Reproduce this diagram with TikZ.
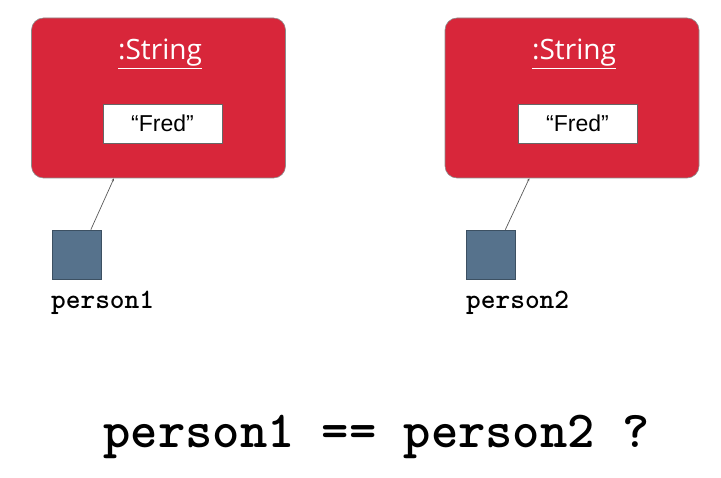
\documentclass[tikz,border=0pt]{standalone}
\usepackage{fontspec}
\newfontfamily\classfont{Open Sans}
\newfontfamily\valuefont{Liberation Sans}
\usetikzlibrary{arrows.meta}

\definecolor{objred}{HTML}{D8263A}
\definecolor{refblue}{HTML}{56728C}

\begin{document}
\begin{tikzpicture}[x=1pt, y=-1pt,
    object/.style={draw=black!45, line width=0.6pt, fill=objred, rounded corners=12pt,
      inner sep=0pt, minimum width=254pt, minimum height=160pt},
    classname/.style={text=white, font=\classfont\fontsize{28}{28}\selectfont, anchor=base, inner sep=0pt},
    value/.style={draw=black!60, line width=0.5pt, fill=white, inner sep=0pt,
      minimum width=119pt, minimum height=39pt, font=\valuefont\fontsize{23}{23}\selectfont},
    ref/.style={draw=refblue!70!black, line width=0.6pt, fill=refblue, inner sep=0pt,
      minimum size=49pt},
    refname/.style={font=\ttfamily\bfseries\fontsize{28}{28}\selectfont, anchor=base west, inner sep=0pt},
    pointer/.style={draw=black!65, line width=0.7pt, -{Stealth[length=3pt, width=2.5pt]}}
  ]
    \useasboundingbox (0, 0) rectangle (721, 478);

    \node[object] (obj1) at (158.5, 98) {};
    \node[classname] (cls1) at (160, 60) {\underline{:String}};
    \node[value] (val1) at (162.5, 123.5) {“Fred”};
    \node[ref] (ref1) at (76.5, 254.5) {};
    \node[refname] (lab1) at (51, 309) {person1};
    \draw[pointer] (ref1.60) -- (obj1.241);

    \node[object] (obj2) at (572, 98) {};
    \node[classname] (cls2) at (574, 60) {\underline{:String}};
    \node[value] (val2) at (577.5, 123.5) {“Fred”};
    \node[ref] (ref2) at (491, 254.5) {};
    \node[refname] (lab2) at (466, 309) {person2};
    \draw[pointer] (ref2.60) -- (obj2.242);

    \node[font=\ttfamily\bfseries\fontsize{52}{52}\selectfont, anchor=base, inner sep=0pt] (cmp) at (376.5, 448) {person1 == person2 ?};
  \end{tikzpicture}
\end{document}
